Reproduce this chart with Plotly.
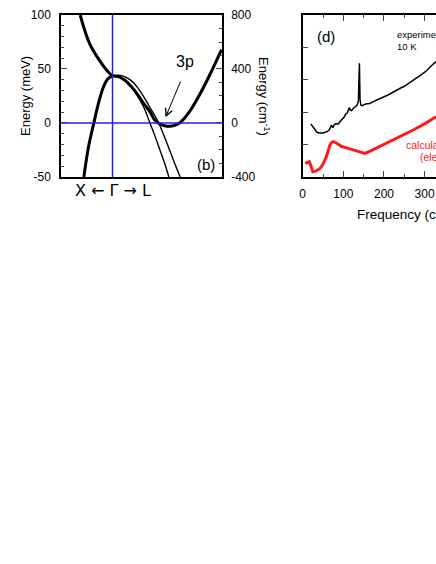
import plotly.graph_objects as go

# ---- panel (b): band structure, k in arbitrary units (Gamma = 0) ----
k_upper = [-0.201, -0.143, -0.081, -0.019, 0.0, 0.037, 0.075, 0.118, 0.155, 0.199,
           0.230, 0.261, 0.292, 0.323, 0.354, 0.385, 0.416, 0.447, 0.478, 0.540, 0.602, 0.677]
e_upper = [100, 73.8, 58, 46, 43.8, 43.0, 39.8, 33.5, 26.5, 17,
           11, 3, -0.8, -2.5, -3, -2.2, 0, 4.5, 10.5, 26, 44, 68]

k_valence = [-0.178, -0.149, -0.116, -0.091, -0.060, -0.031, 0.0]
e_valence = [-50, -22, 0, 16, 32, 40.5, 43.8]

k_inner = [0.0, 0.037, 0.075, 0.118, 0.155, 0.199, 0.230, 0.261, 0.292, 0.323, 0.350]
e_inner = [43.8, 43.0, 40.0, 33.5, 25, 13, 1, -11, -24, -37, -50]

k_outer = [0.0, 0.037, 0.075, 0.118, 0.155, 0.199, 0.230, 0.261, 0.287, 0.323, 0.354, 0.385, 0.420]
e_outer = [43.8, 44.3, 43.0, 39, 33, 23, 15, 7.4, 0, -13, -25, -37, -50]

mev_ticks = [-50, 0, 50, 100]
mev_labels = ['-50', '0', '50', '100']
cm_ticks = [-400, 0, 400, 800]
cm_labels = ['-400', '0', '400', '800']

# ---- panel (d): optical spectra ----
freq_exp = [20, 25, 30, 35, 40, 45, 50, 55, 60, 65, 68, 71, 74, 78, 82, 87, 92, 97, 102,
            106, 110, 113, 115, 117, 120, 125, 130, 134, 137, 139.5, 141, 143, 147, 152,
            158, 165, 172, 180, 190, 200, 210, 220, 231, 240, 250, 260, 272, 282, 292,
            302, 313, 320, 328]
y_exp = [1.64, 1.55, 1.45, 1.38, 1.36, 1.35, 1.36, 1.38, 1.40, 1.45, 1.55, 1.60, 1.52,
         1.62, 1.65, 1.63, 1.71, 1.78, 1.85, 1.95, 1.98, 2.10, 2.14, 2.06, 2.05, 2.12,
         2.17, 2.22, 2.35, 3.51, 2.40, 2.22, 2.20, 2.24, 2.26, 2.27, 2.32, 2.36, 2.43,
         2.48, 2.53, 2.60, 2.69, 2.74, 2.80, 2.88, 2.99, 3.07, 3.16, 3.25, 3.40, 3.47, 3.56]

freq_calc = [6, 11, 16, 20, 25, 32, 38, 45, 51, 58, 63, 67, 71, 75, 80, 84, 90, 96,
             110, 125, 140, 153, 170, 190, 210, 231, 250, 272, 300, 328]
y_calc = [0.42, 0.44, 0.47, 0.35, 0.16, 0.18, 0.22, 0.30, 0.42, 0.62, 0.80, 0.99, 1.06,
          1.09, 1.07, 1.04, 1.00, 0.94, 0.89, 0.83, 0.78, 0.73, 0.82, 0.94, 1.06, 1.19,
          1.30, 1.45, 1.64, 1.86]

BLUE = '#1f1fe6'
RED = '#ff1a1a'
FONT = 'Liberation Sans, Arial, sans-serif'

fig = go.Figure()

fig.add_trace(go.Scatter(x=k_upper, y=e_upper, mode='lines', line=dict(color='black', width=3, shape='spline'),
                         xaxis='x', yaxis='y', showlegend=False))
fig.add_trace(go.Scatter(x=k_valence, y=e_valence, mode='lines', line=dict(color='black', width=3, shape='spline'),
                         xaxis='x', yaxis='y', showlegend=False))
fig.add_trace(go.Scatter(x=k_inner, y=e_inner, mode='lines', line=dict(color='black', width=1.4, shape='spline'),
                         xaxis='x', yaxis='y', showlegend=False))
fig.add_trace(go.Scatter(x=k_outer, y=e_outer, mode='lines', line=dict(color='black', width=1.4, shape='spline'),
                         xaxis='x', yaxis='y', showlegend=False))
# invisible trace so the cm^-1 axis gets drawn with its labels
fig.add_trace(go.Scatter(x=[0], y=[0], mode='markers', marker=dict(opacity=0), hoverinfo='skip',
                         xaxis='x', yaxis='y2', showlegend=False))

fig.add_trace(go.Scatter(x=freq_exp, y=y_exp, mode='lines', line=dict(color='black', width=1.5),
                         xaxis='x3', yaxis='y3', showlegend=False))
fig.add_trace(go.Scatter(x=freq_calc, y=y_calc, mode='lines', line=dict(color=RED, width=3),
                         xaxis='x3', yaxis='y3', showlegend=False))

# blue guide lines at Gamma and E = 0
fig.add_shape(type='line', xref='x', yref='y', x0=0, x1=0, y0=-50, y1=100, line=dict(color=BLUE, width=1.5))
fig.add_shape(type='line', xref='x', yref='y', x0=-0.32, x1=0.68, y0=0, y1=0, line=dict(color=BLUE, width=1.5))

ax_common = dict(showline=True, linecolor='black', linewidth=1.5, showgrid=False, zeroline=False,
                 automargin=False, tickfont=dict(size=12, color='black', family=FONT))

fig.update_layout(
    template='none',
    width=436, height=564,
    margin=dict(l=0, r=0, t=0, b=0, autoexpand=False),
    paper_bgcolor='white', plot_bgcolor='white',
    font=dict(family=FONT, color='black'),
    xaxis=dict(domain=[0.1399, 0.5092], range=[-0.32, 0.68], anchor='y', showticklabels=False,
               ticks='', mirror=True, **ax_common),
    yaxis=dict(domain=[0.6862, 0.9734], range=[-50, 100], anchor='x', tickvals=mev_ticks,
               ticktext=mev_labels, ticks='inside', ticklen=6, tickwidth=1.2, ticklabelstandoff=6,
               minor=dict(dtick=10, ticks='inside', ticklen=3, tickwidth=1), **ax_common),
    yaxis2=dict(overlaying='y', side='right', anchor='x', range=[-400, 800], tickvals=cm_ticks,
                ticktext=cm_labels, ticks='inside', ticklen=6, tickwidth=1.2, ticklabelstandoff=5,
                showticklabels=True,
                minor=dict(dtick=100, ticks='inside', ticklen=3, tickwidth=1), **ax_common),
    xaxis3=dict(domain=[0.6943, 1.0], range=[0, 328], anchor='y3', dtick=100, ticks='inside',
                ticklen=6, tickwidth=1.2, ticklabelstandoff=5,
                minor=dict(dtick=50, ticks='inside', ticklen=3, tickwidth=1),
                mirror='allticks', **ax_common),
    yaxis3=dict(domain=[0.6862, 0.9734], range=[0, 5], anchor='x3', dtick=1, ticks='inside',
                ticklen=6, tickwidth=1.2, showticklabels=False, **ax_common),
)


def label(text, px, py, size, color='black', angle=0, anchor='center', family=FONT):
    return dict(text=text, x=px / 436, y=1 - py / 564, xref='paper', yref='paper',
                xanchor=anchor, yanchor='middle', textangle=angle, showarrow=False,
                font=dict(size=size, color=color, family=family))


ann = [
    label('Energy (meV)', 25, 96, 13, angle=-90),
    label('Energy (cm<sup>-1</sup>)', 264, 96, 13, angle=90),
    label('X \u2190 \u0393 \u2192 L', 113, 190, 16, family='DejaVu Sans'),
    label('(b)', 206, 164, 15),
    label('3p', 185, 61, 16),
    dict(text='', x=0.329, y=5.3, xref='x', yref='y', ax=15.7, ay=-37.3, showarrow=True,
         arrowhead=5, arrowsize=1.4, arrowwidth=1, arrowcolor='black'),
    label('(d)', 326, 37, 15),
    label('experiment', 395, 34, 9.5, anchor='left'),
    label('10 K', 395, 46.5, 9.5, anchor='left'),
    label('calculation', 404, 145, 10.5, color=RED, anchor='left'),
    label('(electronic)', 418, 157, 10.5, color=RED, anchor='left'),
    label('Frequency (cm<sup>-1</sup>)', 355, 213, 13.5, anchor='left'),
]
fig.update_layout(annotations=ann)

fig.write_html("out.html", config={'displayModeBar': False},
               post_script="document.body.style.margin = '0px';")
